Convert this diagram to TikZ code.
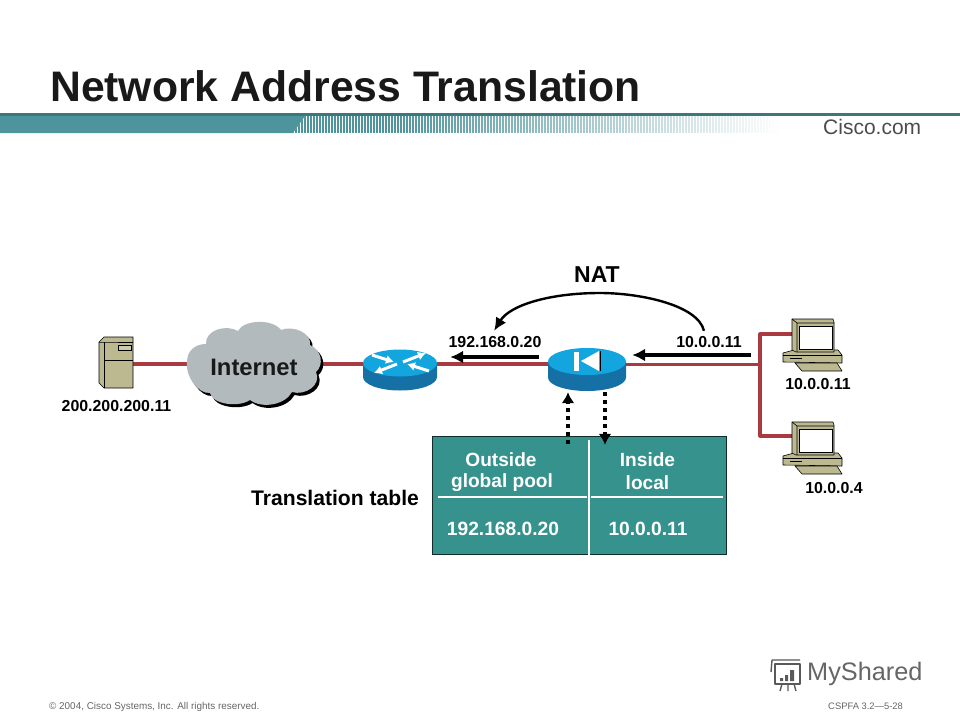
\documentclass[tikz,border=0pt]{standalone}
\usepackage{fontspec}
\setmainfont{Liberation Sans}
\usetikzlibrary{arrows.meta,calc}
\definecolor{teal1}{RGB}{77,148,156}
\definecolor{tablec}{RGB}{54,146,140}
\definecolor{wire}{RGB}{168,58,64}
\definecolor{rtop}{RGB}{18,165,222}
\definecolor{rside}{RGB}{20,112,165}
\definecolor{beige}{RGB}{188,185,145}
\definecolor{cloudc}{RGB}{178,186,190}
\tikzset{
 wireline/.style={wire,line width=3.2pt},
 bigarrow/.style={black,line width=3.4pt,-{Latex[length=13pt,width=13pt]}},
 dotarrow/.style={black,line width=3.4pt,dash pattern=on 4pt off 4pt,-{Latex[length=11pt,width=13pt]}},
 lab/.style={font=\bfseries\fontsize{15.9}{18}\selectfont,black,inner sep=0pt},
 tlab/.style={font=\bfseries\fontsize{19.1}{23}\selectfont,white,inner sep=0pt,align=center},
 tval/.style={font=\bfseries\fontsize{19.2}{23}\selectfont,white,inner sep=0pt},
 anchorpt/.style={inner sep=0pt,minimum size=0pt},
 pcpart/.style={draw=black,line width=.6pt,fill=beige,line join=round},
 rarrow/.style={white,line width=3pt,-{Latex[length=8pt,width=9pt]}},
}
\newcommand{\routerbody}[5]{% cx, cy(top ellipse), rx, ry, side height
 \fill[rside] (#1-#3,#2) -- (#1-#3,#2+#5) arc[start angle=180,end angle=0,x radius=#3,y radius=#4] -- (#1+#3,#2) -- cycle;
 \fill[rtop] (#1,#2) ellipse[x radius=#3,y radius=#4];
}
\newcommand{\pc}[2]{%
 \begin{scope}[shift={(#1,#2)}]
  \draw[pcpart] (-9,30) -- (2,27) -- (46,27) -- (50,32) -- (50,40) -- (-9,39) -- cycle;
  \draw[pcpart] (-9,32) -- (50,32);
  \draw[pcpart] (3,40) -- (45,40) -- (50,48) -- (10,48) -- cycle;
  \draw[black,line width=.5pt] (-2,35) -- (10,35);
  \draw[pcpart] (0,-4) -- (41,-4) -- (42,-1) -- (42,29) -- (4,29) -- (0,27) -- cycle;
  \draw[black,line width=.6pt] (0,-4) -- (5,0) -- (42,0) (5,0) -- (5,29);
  \fill[white] (7,3) rectangle (40,26);
  \draw[black,line width=.6pt] (7,3) rectangle (40,26);
 \end{scope}}
\newcommand{\cloudfill}[1]{%
 \fill[#1] (187,362) .. controls (187,350) and (196,344) .. (206,344)
 .. controls (205,330) and (226,324) .. (238,331)
 .. controls (243,320) and (272,318) .. (281,330)
 .. controls (293,325) and (312,333) .. (310,345)
 .. controls (322,350) and (324,365) .. (316,372)
 .. controls (322,385) and (305,396) .. (292,392)
 .. controls (285,405) and (262,409) .. (250,400)
 .. controls (238,408) and (212,404) .. (210,393)
 .. controls (198,394) and (185,376) .. (187,362) -- cycle;}
\begin{document}
\begin{tikzpicture}[x=1pt,y=-1pt]
\useasboundingbox (0,0) rectangle (960,720);
\fill[white] (0,0) rectangle (960,720);
% title
\node[anchor=west,inner sep=0pt,font=\bfseries\fontsize{42.7}{50}\selectfont,text=black!90] (title) at (50,86) {Network Address Translation};
% band
\fill[teal1!80!black] (0,113) rectangle (960,116);
\fill[teal1] (0,116) -- (305,116) -- (293,133) -- (0,133) -- cycle;
\begin{scope}
 \clip (305,116) -- (960,116) -- (960,133) -- (293,133) -- cycle;
 \foreach \i in {0,...,170}{
  \pgfmathsetmacro{\xx}{293+\i*3}
  \pgfmathsetmacro{\op}{max(0,min(1,1.25-\i/130))}
  \draw[teal1,line width=1.5pt,opacity=\op] (\xx,116) -- (\xx,133);
 }
\end{scope}
\node[anchor=west,inner sep=0pt,font=\fontsize{21}{24}\selectfont,text=black!70] (cisco) at (823,127) {Cisco.com};
% anchors
\node[anchorpt] (server) at (116,364) {};
\node[anchorpt] (cloud) at (254,364) {};
\node[anchorpt] (router) at (400,364) {};
\node[anchorpt] (nat) at (587,364.5) {};
\coordinate (hub) at (760,364.5);
\node[anchorpt] (pcA) at (792,334) {};
\node[anchorpt] (pcB) at (792,436) {};
% wires
\draw[wireline] (server) -- (cloud);
\draw[wireline] (cloud) -- (router);
\draw[wireline] (router) -- (router -| nat);
\draw[wireline] (nat) -- (hub);
\draw[wireline,line join=round] (pcA) -- (760,334) -- (760,436) -- (pcB);
% server
\draw[pcpart] (99,342) -- (104,337) -- (133,337) -- (133,388) -- (104,388) -- (99,383) -- cycle;
\draw[black,line width=.6pt] (104,342) -- (104,388);
\draw[black,line width=.6pt] (99,342) -- (104,342) -- (133,342);
\draw[black,line width=.6pt] (104,360) -- (133,360);
\draw[black,line width=.5pt,fill=beige!75!white] (118,345.5) rectangle (131,350.5);
% cloud
\begin{scope}[shift={(2.5,3)}]\cloudfill{black}\end{scope}
\cloudfill{cloudc}
\node[inner sep=0pt,font=\bfseries\fontsize{23.8}{28}\selectfont,text=black!90] (internet) at (254,367) {Internet};
% router
\routerbody{400}{363}{37}{13.5}{14}
\draw[rarrow] (372,355) -- (394,362);
\draw[rarrow] (429,371) -- (407,364);
\draw[rarrow] (403,362) -- (426,353);
\draw[rarrow] (397,364) -- (374,373);
% NAT box
\routerbody{587}{361.5}{39}{13.5}{16}
\fill[white] (574,352) rectangle (579,371);
\fill[white] (599,351) -- (581,361) -- (599,371) -- cycle;
\fill[black] (599.5,351) rectangle (600.5,371);
% pcs
\pc{792}{323}
\pc{792}{426}
% NAT arrows
\node[anchorpt] (a1s) at (539,357) {};
\node[anchorpt] (a1e) at (450,357) {};
\draw[bigarrow] (a1s) -- (a1e);
\node[anchorpt] (a2s) at (751,355) {};
\node[anchorpt] (a2e) at (632,355) {};
\draw[bigarrow] (a2s) -- (a2e);
\node[anchorpt] (arcS) at (704,331) {};
\node[anchorpt] (arcE) at (494,331) {};
\draw[black,line width=2.4pt,-{Latex[length=13pt,width=12pt]}] (arcS) .. controls (698,305) and (640,293) .. (600,293) .. controls (550,293) and (510,305) .. (arcE);
\node[lab,font=\bfseries\fontsize{23}{27}\selectfont] (natl) at (597,275) {NAT};
% table
\node[draw=black!70!tablec,line width=1pt,fill=tablec,minimum width=294pt,minimum height=118pt,inner sep=0pt] (tbl) at (579,495) {};
\draw[white,line width=2.4pt] (589,440) -- (589,555);
\draw[white,line width=2.2pt] (438,497) -- (587,497);
\draw[white,line width=2.2pt] (591,497) -- (723,497);
\node[tlab] (o1) at (501,459.5) {Outside};
\node[tlab] (o2) at (502,482.5) {global pool};
\node[tlab] (i1) at (647.5,459.5) {Inside};
\node[tlab] (i2) at (647.5,482.5) {local};
\node[tval] (v1) at (503,529) {192.168.0.20};
\node[tval] (v2) at (648,529) {10.0.0.11};
\node[lab,font=\bfseries\fontsize{21.1}{25}\selectfont,anchor=west] (ttl) at (251,498) {Translation table};
% dotted arrows
\node[anchorpt] (d1s) at (568,444) {};
\node[anchorpt] (d1e) at (568,392) {};
\draw[dotarrow] (d1s) -- (d1e);
\node[anchorpt] (d2s) at (605,392) {};
\node[anchorpt] (d2e) at (605,445) {};
\draw[dotarrow] (d2s) -- (d2e);
% labels
\node[lab] (l1) at (116.5,406) {200.200.200.11};
\node[lab] (l2) at (495,342) {192.168.0.20};
\node[lab] (l3) at (709,342) {10.0.0.11};
\node[lab] (l4) at (818,384) {10.0.0.11};
\node[lab] (l5) at (834,488) {10.0.0.4};
% footer
\node[anchor=west,inner sep=0pt,font=\fontsize{9.9}{11}\selectfont,text=black!60] (f1) at (49,707) {© 2004, Cisco Systems, Inc. All rights reserved.};
\node[anchor=west,inner sep=0pt,font=\fontsize{9.4}{11}\selectfont,text=black!60] (f2) at (828,706) {CSPFA 3.2—5-28};
% watermark
\begin{scope}[black!65,line width=1.4pt,line join=round]
 \draw (772,660) -- (800,660) (772,660) -- (771,672);
 \draw (775,664) rectangle (800,684);
 \draw (782,684) -- (780,691) (788,684) -- (788,691) (794,684) -- (796,691);
 \fill (780,678) rectangle (783,681) (785,675) rectangle (788,681) (790,670) rectangle (794,681);
\end{scope}
\node[anchor=west,inner sep=0pt,font=\fontsize{25.3}{30}\selectfont,text=black!60] (ms) at (807,674) {MyShared};
\end{tikzpicture}
\end{document}
